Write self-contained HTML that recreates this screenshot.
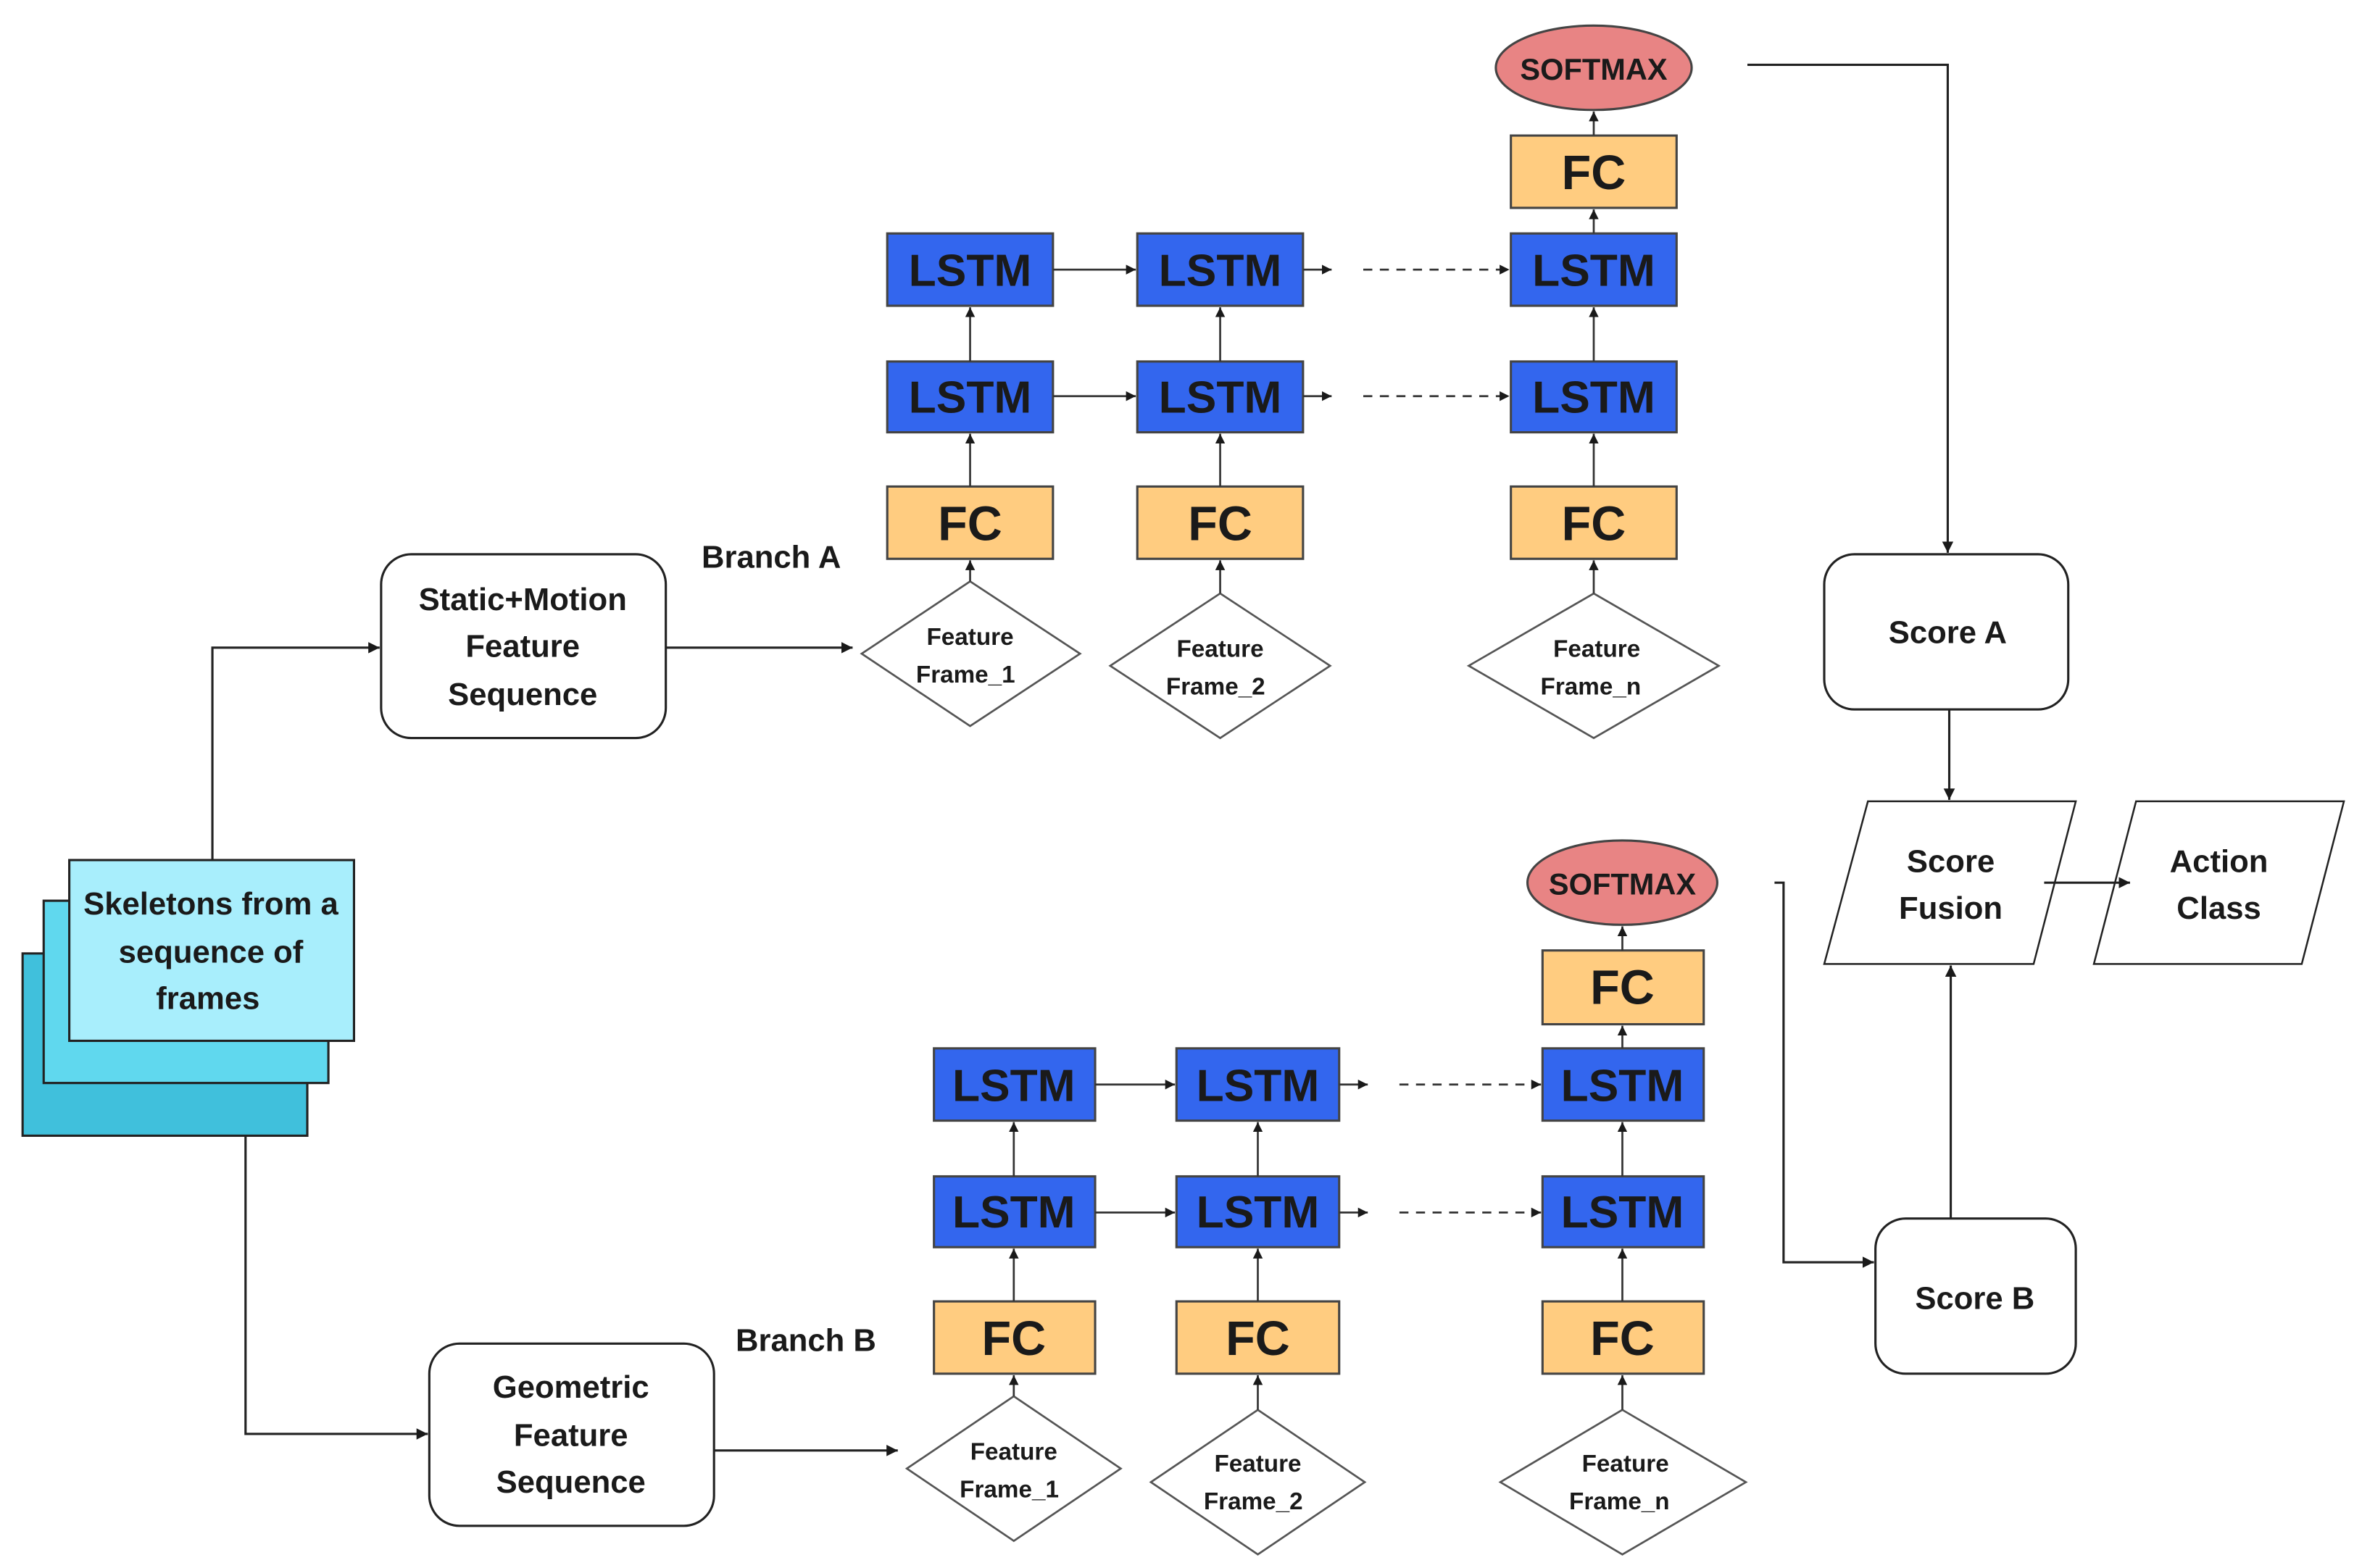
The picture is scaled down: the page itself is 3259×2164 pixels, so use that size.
<!DOCTYPE html>
<html><head><meta charset="utf-8"><style>
html,body{margin:0;padding:0;background:#fff}
svg{display:block}
text{font-family:"Liberation Sans",sans-serif;font-weight:bold;fill:#1a1a1a;text-anchor:middle;dominant-baseline:central}
</style></head><body>
<svg width="3259" height="2164" viewBox="0 0 1568 1041" preserveAspectRatio="none" xmlns="http://www.w3.org/2000/svg">
<defs>
<marker id="a" viewBox="0 0 10 10" refX="10" refY="5" markerWidth="5" markerHeight="5" orient="auto"><path d="M0,0L10,5L0,10z" fill="#1a1a1a"/></marker>
</defs>
<g stroke="#222" stroke-width="1.5" fill="none">
<!-- skeleton stack -->
<rect x="15" y="633" width="189" height="121" fill="#40c0dc"/>
<rect x="29" y="598" width="189" height="121" fill="#60d8ee"/>
<rect x="46" y="571" width="189" height="120" fill="#a8eefc"/>
<!-- feature seq boxes -->
<rect x="253" y="368" width="189" height="122" rx="20" fill="#fff"/>
<rect x="285" y="892" width="189" height="121" rx="20" fill="#fff"/>
<!-- connectors left -->
<path d="M141,571V430H252" marker-end="url(#a)"/>
<path d="M442,430H566" marker-end="url(#a)"/>
<path d="M163,754V952H284" marker-end="url(#a)"/>
<path d="M474,963H596" marker-end="url(#a)"/>
<!-- right side -->
<rect x="1211" y="368" width="162" height="103" rx="20" fill="#fff"/>
<rect x="1245" y="809" width="133" height="103" rx="20" fill="#fff"/>
<path d="M1240,532H1378L1350,640H1211Z" fill="#fff" stroke-width="1.2"/>
<path d="M1418,532H1556L1528,640H1390Z" fill="#fff" stroke-width="1.2"/>
<path d="M1160,43H1293V367" marker-end="url(#a)"/>
<path d="M1294,471V531" marker-end="url(#a)"/>
<path d="M1357,586H1414" marker-end="url(#a)"/>
<path d="M1178,586H1184V838H1244" marker-end="url(#a)"/>
<path d="M1295,809V641" marker-end="url(#a)"/>
</g>
<g stroke="#555" stroke-width="1.3" fill="#fff">
<path d="M644,386L717,434L644,482L572,434Z"/>
<path d="M810,394L883,442L810,490L737,442Z"/>
<path d="M1058,394L1141,442L1058,490L975,442Z"/>
<path d="M673,927L744,975L673,1023L602,975Z"/>
<path d="M835,936L906,984L835,1032L764,984Z"/>
<path d="M1077,936L1159,984L1077,1032L996,984Z"/>
</g>
<!-- Branch A network -->
<g stroke="#444" stroke-width="1.5">
<g fill="#3366ee">
<rect x="589" y="155" width="110" height="48"/><rect x="755" y="155" width="110" height="48"/><rect x="1003" y="155" width="110" height="48"/>
<rect x="589" y="240" width="110" height="47"/><rect x="755" y="240" width="110" height="47"/><rect x="1003" y="240" width="110" height="47"/>
<rect x="620" y="696" width="107" height="48"/><rect x="781" y="696" width="108" height="48"/><rect x="1024" y="696" width="107" height="48"/>
<rect x="620" y="781" width="107" height="47"/><rect x="781" y="781" width="108" height="47"/><rect x="1024" y="781" width="107" height="47"/>
</g>
<g fill="#ffcc80">
<rect x="589" y="323" width="110" height="48"/><rect x="755" y="323" width="110" height="48"/><rect x="1003" y="323" width="110" height="48"/><rect x="1003" y="90" width="110" height="48"/>
<rect x="620" y="864" width="107" height="48"/><rect x="781" y="864" width="108" height="48"/><rect x="1024" y="864" width="107" height="48"/><rect x="1024" y="631" width="107" height="49"/>
</g>
<ellipse cx="1058" cy="45" rx="65" ry="28" fill="#e88484"/>
<ellipse cx="1077" cy="586" rx="63" ry="28" fill="#e88484"/>
</g>
<g stroke="#333" stroke-width="1.3" fill="none" marker-end="url(#a)">
<!-- A verticals -->
<path d="M644,386V372"/><path d="M644,323V288"/><path d="M644,240V204"/>
<path d="M810,394V372"/><path d="M810,323V288"/><path d="M810,240V204"/>
<path d="M1058,394V372"/><path d="M1058,323V288"/><path d="M1058,240V204"/><path d="M1058,155V139"/><path d="M1058,90V74"/>
<path d="M699,179H754"/><path d="M865,179H884"/><path d="M905,179H1002" stroke-dasharray="6,5"/>
<path d="M699,263H754"/><path d="M865,263H884"/><path d="M905,263H1002" stroke-dasharray="6,5"/>
<!-- B -->
<path d="M673,927V913"/><path d="M673,864V829"/><path d="M673,781V745"/>
<path d="M835,936V913"/><path d="M835,864V829"/><path d="M835,781V745"/>
<path d="M1077,936V913"/><path d="M1077,864V829"/><path d="M1077,781V745"/><path d="M1077,696V681"/><path d="M1077,631V615"/>
<path d="M727,720H780"/><path d="M889,720H908"/><path d="M929,720H1023" stroke-dasharray="6,5"/>
<path d="M727,805H780"/><path d="M889,805H908"/><path d="M929,805H1023" stroke-dasharray="6,5"/>
</g>
<!-- texts -->
<g font-size="21">
<text x="140" y="600">Skeletons from a</text><text x="140" y="632">sequence of</text><text x="138" y="663">frames</text>
<text x="347" y="398">Static+Motion</text><text x="347" y="429">Feature</text><text x="347" y="461">Sequence</text>
<text x="379" y="921">Geometric</text><text x="379" y="953">Feature</text><text x="379" y="984">Sequence</text>
<text x="512" y="370">Branch A</text><text x="535" y="890">Branch B</text>
<text x="1293" y="420">Score A</text><text x="1311" y="862">Score B</text>
<text x="1295" y="572">Score</text><text x="1295" y="603">Fusion</text>
<text x="1473" y="572">Action</text><text x="1473" y="603">Class</text>
</g>
<g font-size="30">
<text x="644" y="180">LSTM</text><text x="810" y="180">LSTM</text><text x="1058" y="180">LSTM</text>
<text x="644" y="264">LSTM</text><text x="810" y="264">LSTM</text><text x="1058" y="264">LSTM</text>
<text x="673" y="721">LSTM</text><text x="835" y="721">LSTM</text><text x="1077" y="721">LSTM</text>
<text x="673" y="805">LSTM</text><text x="835" y="805">LSTM</text><text x="1077" y="805">LSTM</text>
</g>
<g font-size="32">
<text x="644" y="348">FC</text><text x="810" y="348">FC</text><text x="1058" y="348">FC</text><text x="1058" y="115">FC</text>
<text x="673" y="889">FC</text><text x="835" y="889">FC</text><text x="1077" y="889">FC</text><text x="1077" y="656">FC</text>
</g>
<g font-size="20">
<text x="1058" y="46">SOFTMAX</text><text x="1077" y="587">SOFTMAX</text>
</g>
<g font-size="16">
<text x="644" y="423">Feature</text><text x="641" y="448">Frame_1</text>
<text x="810" y="431">Feature</text><text x="807" y="456">Frame_2</text>
<text x="1060" y="431">Feature</text><text x="1056" y="456">Frame_n</text>
<text x="673" y="964">Feature</text><text x="670" y="989">Frame_1</text>
<text x="835" y="972">Feature</text><text x="832" y="997">Frame_2</text>
<text x="1079" y="972">Feature</text><text x="1075" y="997">Frame_n</text>
</g>
</svg>
</body></html>
